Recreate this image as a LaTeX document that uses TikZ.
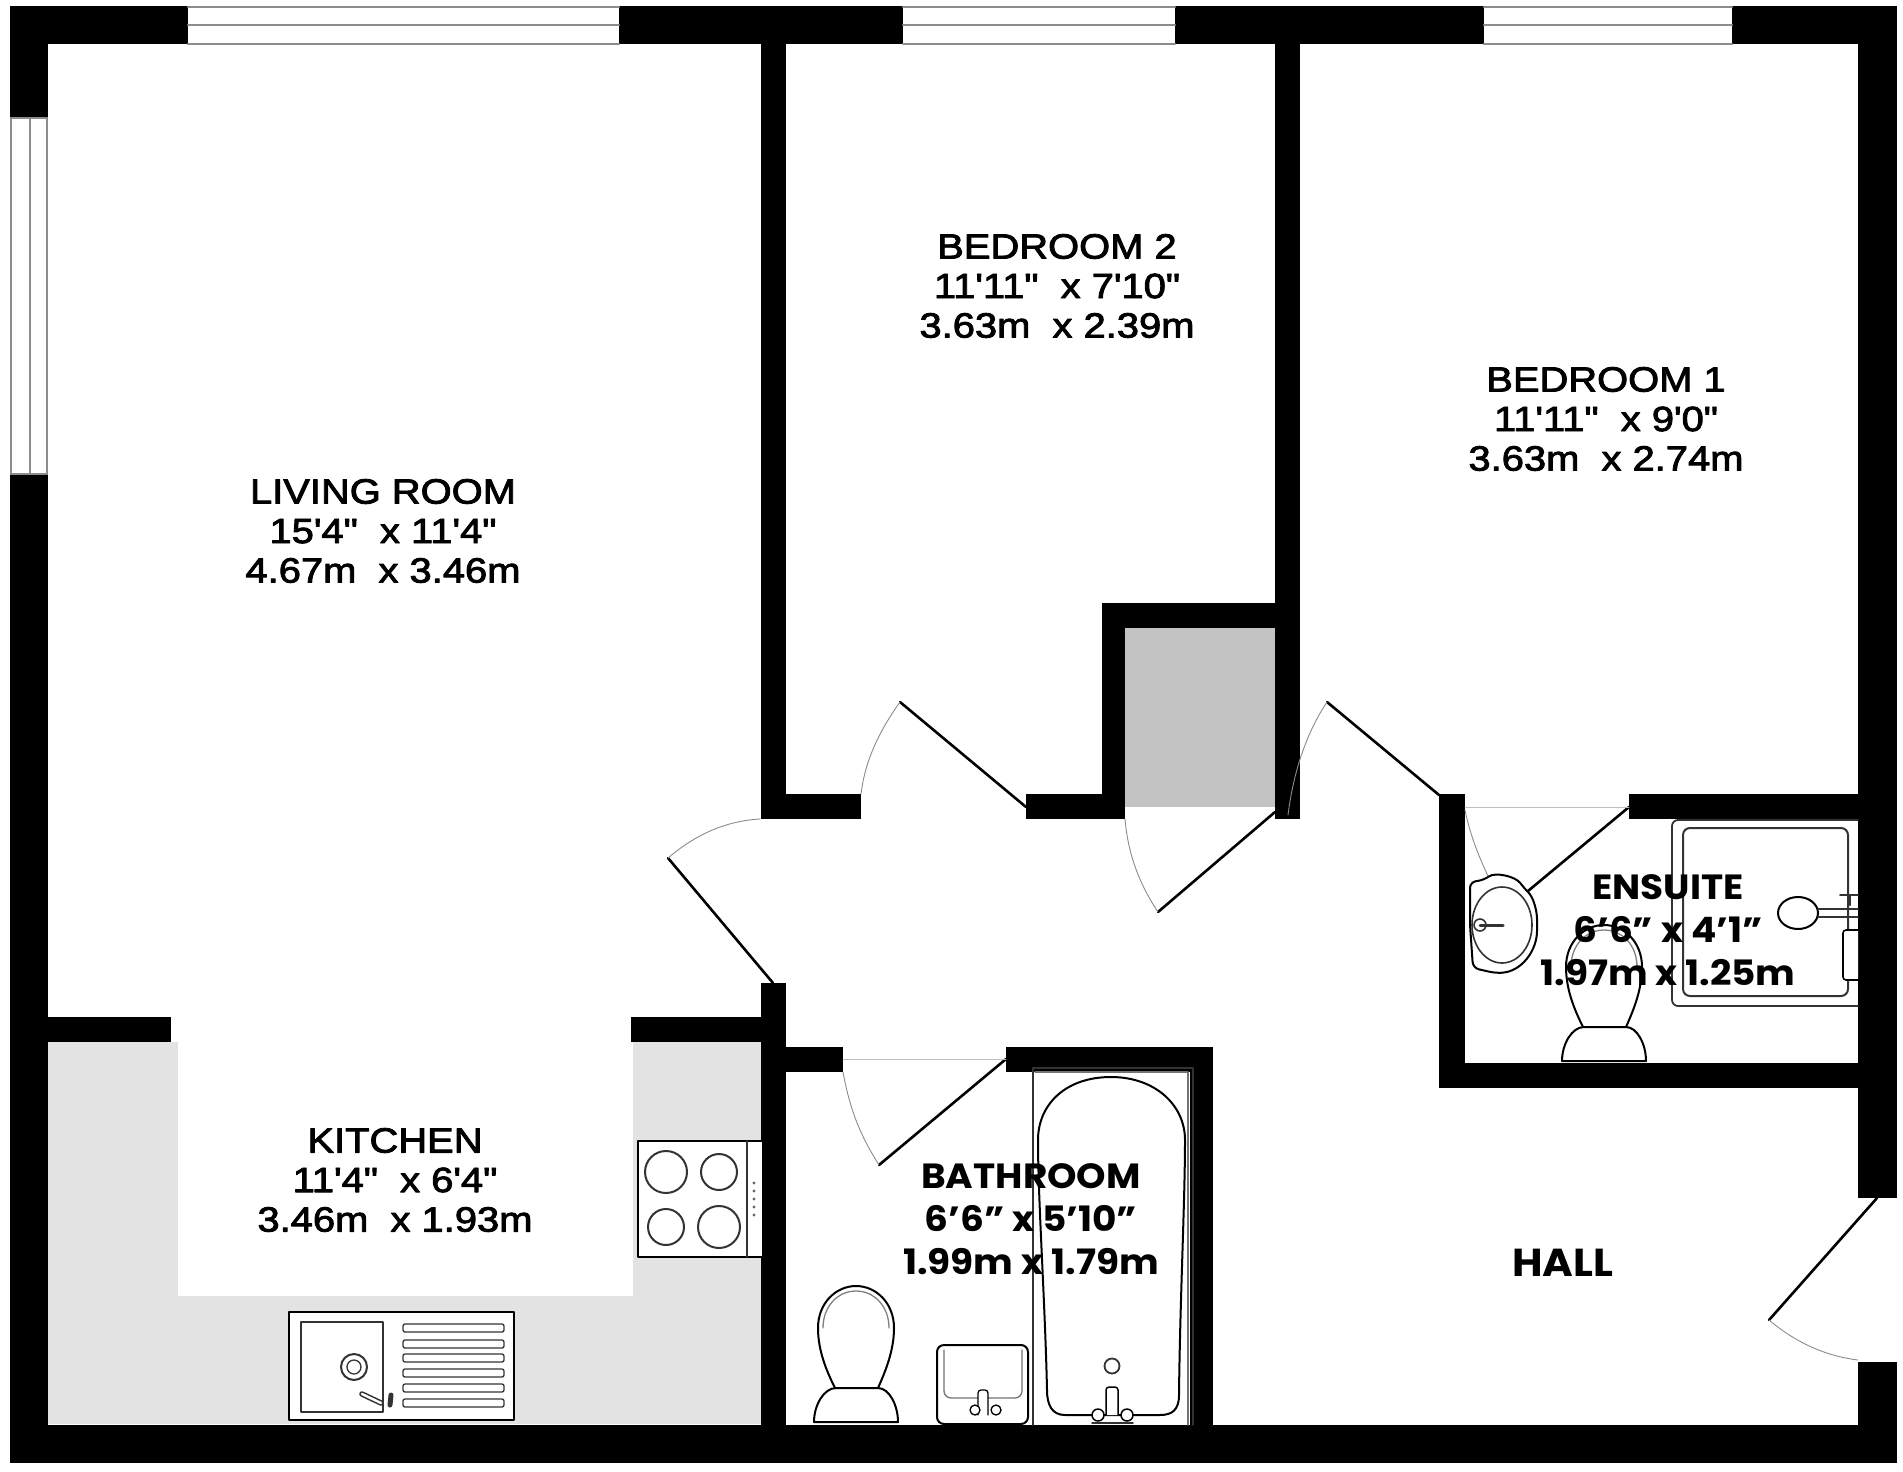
\documentclass[tikz,border=0pt]{standalone}
\usepackage{fontspec}
\newfontfamily\areafont{Liberation Sans}[FakeStretch=1.14, FakeBold=2.5]
\newfontfamily\wetfont{Poppins}[FakeStretch=1.07]
\usetikzlibrary{positioning}
\definecolor{counter}{HTML}{E3E3E3}
\definecolor{cupboard}{HTML}{C3C3C3}
\tikzset{
	wall/.style={fill=black},
	glazing/.style={draw=black!45, line width=2.4pt},
	leaf/.style={draw=black, line width=2.6pt},
	swing/.style={draw=black!45, line width=0.9pt},
	fitting/.style={draw=black, line width=2pt, fill=white},
	thinfit/.style={draw=black!80, line width=1.3pt},
	area/.style={font=\areafont\fontsize{35}{39.5}\selectfont, align=center, inner sep=0pt},
	wetarea/.style={font=\wetfont\bfseries\fontsize{35}{43}\selectfont, align=center, inner sep=0pt}
}
\begin{document}
\begin{tikzpicture}[x=1pt, y=-1pt, line join=round, line cap=round]
	\useasboundingbox (0,0) rectangle (1903,1472);
	\fill[white] (0,0) rectangle (1903,1472);
	% worktops and cupboard
	\fill[counter] (47.5,1042)--(761,1042)--(761,1424)--(47.5,1424)--cycle;
	\fill[white] (178,1042) rectangle (633,1296);
	\fill[cupboard] (1125,628) rectangle (1275,807);
	% outer walls
	\fill[wall] (10,6) rectangle (1897,44);
	\fill[wall] (10,6) rectangle (47.5,1463);
	\fill[wall] (10,1425) rectangle (1897,1463);
	\fill[wall] (1858,6) rectangle (1897,1198);
	\fill[wall] (1858,1362) rectangle (1897,1463);
	% inner walls
	\fill[wall] (761,44) rectangle (786,819);
	\fill[wall] (761,794) rectangle (861,819);
	\fill[wall] (1026,794) rectangle (1125,819);
	\fill[wall] (1102,603) rectangle (1125,819);
	\fill[wall] (1102,603) rectangle (1275,628);
	\fill[wall] (1275,44) rectangle (1300,819);
	\fill[wall] (47.5,1017) rectangle (171,1042);
	\fill[wall] (631,1017) rectangle (761,1042);
	\fill[wall] (761,983) rectangle (786,1425);
	\fill[wall] (786,1047) rectangle (843,1072);
	\fill[wall] (1006,1047) rectangle (1213,1072);
	\fill[wall] (1190,1047) rectangle (1213,1425);
	\fill[wall] (1439,794) rectangle (1465,1088);
	\fill[wall] (1439,1063) rectangle (1858,1088);
	\fill[wall] (1629,794) rectangle (1858,819);
	% windows
	\foreach \xa/\xb in {188/619, 903/1175, 1484/1732}{
		\fill[white] (\xa,4) rectangle (\xb,45);
		\foreach \ya in {7,25,44}
			\draw[glazing] (\xa,\ya)--(\xb,\ya);
	}
	\fill[white] (9,118) rectangle (48,474);
	\foreach \xa in {11,30,47}
		\draw[glazing] (\xa,118)--(\xa,474);
	\draw[glazing] (11,118)--(47,118) (11,474)--(47,474);
	% doors
	\draw[leaf] (668,858)--(773,983);
	\draw[swing] (668,858) .. controls (695,835) and (725,821) .. (760,819);
	\draw[leaf] (1026,807)--(900,702);
	\draw[swing] (900,702) .. controls (880,730) and (865,760) .. (861,794);
	\draw[leaf] (1275,812)--(1158,912);
	\draw[swing] (1125,819) .. controls (1128,855) and (1140,885) .. (1158,912);
	\draw[leaf] (1439,795)--(1327,702);
	\draw[swing] (1327,702) .. controls (1305,735) and (1293,775) .. (1288,815);
	\draw[leaf] (1006,1059)--(879,1165);
	\draw[swing] (843,1072) .. controls (850,1110) and (860,1135) .. (879,1165);
	\draw[swing, black!25] (843,1059)--(1006,1059);
	\draw[leaf] (1629,807)--(1528,891);
	\draw[swing] (1465,810) .. controls (1470,835) and (1480,860) .. (1490,880);
	\draw[swing, black!25] (1465,807)--(1629,807);
	\draw[leaf] (1877,1198)--(1769,1320);
	\draw[swing] (1769,1320) .. controls (1795,1342) and (1825,1356) .. (1858,1360);
	% hob
	\draw[fitting] (638,1141) rectangle (763,1257);
	\draw[thinfit] (747,1141)--(747,1257);
	\foreach \cx/\cy/\rad in {666/1172/21, 719/1172/18, 666/1227/18, 719/1227/21}
		\draw[thinfit, line width=2pt] (\cx,\cy) circle (\rad);
	\foreach \cy in {1183,1191,1199,1207,1215}
		\fill[black!60] (754,\cy) circle (1.6);
	% sink
	\draw[fitting] (289,1312) rectangle (514,1420);
	\draw[thinfit, line width=1.6pt] (301,1322) rectangle (383,1412);
	\draw[thinfit, line width=2pt] (354,1367) circle (13);
	\draw[thinfit] (354,1367) circle (7);
	\foreach \cy in {1328,1344,1358,1373,1388,1403}
		\draw[thinfit, rounded corners=2pt] (403,\cy-4) rectangle (504,\cy+4);
	\draw[thinfit, line width=5.5pt] (362,1394)--(381,1403);
	\draw[white, line width=2.4pt] (362,1394)--(381,1403);
	\draw[thinfit, line width=5pt] (391,1395)--(390,1405);
	% bath
	\draw[thinfit, line width=1.6pt] (1033,1425)--(1033,1068)--(1193,1068)--(1193,1425);
	\draw[thinfit, draw=black!55] (1035,1072)--(1188,1072)--(1188,1425);
	\draw[fitting] (1047,1390) .. controls (1045,1300) and (1038,1200) .. (1038,1140)
		.. controls (1038,1105) and (1065,1077) .. (1111,1077)
		.. controls (1155,1077) and (1185,1105) .. (1185,1140)
		.. controls (1185,1200) and (1180,1300) .. (1179,1395)
		.. controls (1179,1410) and (1172,1415) .. (1160,1415)
		-- (1065,1415) .. controls (1052,1415) and (1047,1405) .. (1047,1390) -- cycle;
	\draw[thinfit, line width=1.8pt] (1112,1366) circle (7.5);
	\draw[fitting, line width=1.5pt, rounded corners=3pt] (1106,1415)--(1106,1387)--(1118,1387)--(1118,1415);
	\foreach \cx in {1098,1127}
		\draw[fitting, line width=1.5pt] (\cx,1415) circle (6);
	\draw[thinfit, line width=1.5pt] (1092,1423)--(1133,1423);
	% bathroom basin
	\draw[fitting, rounded corners=7pt] (937,1345) rectangle (1028,1424);
	\draw[thinfit, draw=black!55, rounded corners=7pt] (944,1350)--(944,1398)--(1022,1398)--(1022,1350);
	\draw[fitting, line width=1.3pt, rounded corners=3pt] (978,1415)--(978,1390)--(988,1390)--(988,1415);
	\foreach \cx in {975,996}
		\draw[fitting, line width=1.3pt] (\cx,1410) circle (5);
	% toilets
	\foreach \cx/\dy in {856/0, 1604/-361}{
		\begin{scope}[shift={(\cx,\dy)}]
			\draw[fitting] (-21,1388) .. controls (-30,1370) and (-38,1350) .. (-38,1328)
				.. controls (-38,1303) and (-20,1286) .. (0,1286)
				.. controls (20,1286) and (38,1303) .. (38,1328)
				.. controls (38,1350) and (30,1370) .. (22,1388) -- cycle;
			\draw[thinfit, draw=black!50] (-33,1328) .. controls (-33,1306) and (-18,1291) .. (0,1291)
				.. controls (18,1291) and (33,1306) .. (33,1328);
			\draw[fitting] (-42,1422) .. controls (-42,1405) and (-32,1388) .. (-20,1388)
				-- (22,1388) .. controls (33,1388) and (42,1405) .. (42,1422) -- cycle;
		\end{scope}
	}
	% ensuite basin
	\draw[fitting, rounded corners=6pt] (1470,882) -- (1484,880) .. controls (1495,872) and (1515,876) .. (1524,888)
		.. controls (1534,898) and (1537,912) .. (1537,925)
		.. controls (1537,950) and (1522,972) .. (1495,973) -- (1473,968) -- (1470,925) -- cycle;
	\draw[thinfit, line width=1.6pt] (1502,925) ellipse (30 and 38);
	\draw[thinfit, line width=3pt] (1480,925)--(1503,925);
	\draw[thinfit, line width=1.6pt] (1480,925) circle (6);
	% shower
	\draw[thinfit, line width=1.8pt, rounded corners=6pt] (1858,820)--(1672,820)--(1672,1006)--(1858,1006);
	\draw[thinfit, line width=2pt, rounded corners=7pt] (1683,828) rectangle (1848,996);
	\draw[fitting] (1798,913) ellipse (20 and 16);
	\draw[thinfit, line width=2pt] (1818,909)--(1858,909) (1818,917)--(1858,917);
	\draw[thinfit, line width=2pt] (1840,895)--(1858,895) (1850,895)--(1850,905);
	\draw[fitting, line width=1.6pt, rounded corners=3pt] (1858,930)--(1843,930)--(1843,980)--(1858,980);
	% room names
	\node[area] (living) at (383,531) {LIVING ROOM\\15'4"\ \ x 11'4"\\4.67m\ \ x 3.46m};
	\node[area] (bedtwo) at (1057,286) {BEDROOM 2\\11'11"\ \ x 7'10"\\3.63m\ \ x 2.39m};
	\node[area] (bedone) at (1606,419) {BEDROOM 1\\11'11"\ \ x 9'0"\\3.63m\ \ x 2.74m};
	\node[area] (kitchen) at (395,1180) {KITCHEN\\11'4"\ \ x 6'4"\\3.46m\ \ x 1.93m};
	\node[wetarea] (bathroom) at (1031,1219) {BATHROOM\\6’6” x 5’10”\\1.99m x 1.79m};
	\node[wetarea] (ensuite) at (1668,930) {ENSUITE\\6’6” x 4’1”\\1.97m x 1.25m};
	\node[wetarea, font=\wetfont\bfseries\fontsize{39}{43}\selectfont] (hall) at (1563,1263) {HALL};
\end{tikzpicture}
\end{document}
